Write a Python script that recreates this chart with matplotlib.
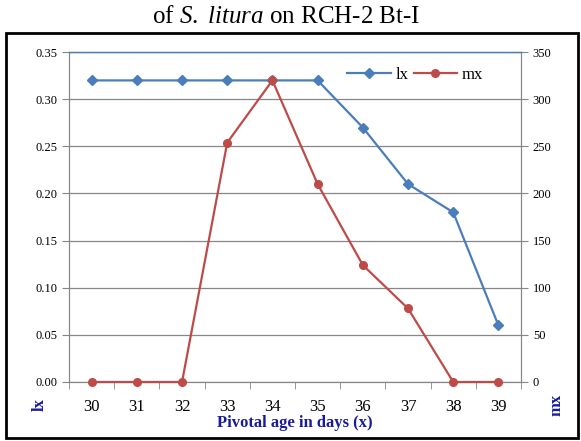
import numpy as np
import matplotlib
matplotlib.use("Agg")
import matplotlib.pyplot as plt
from matplotlib.patches import Rectangle

# dữ liệu
days = [30, 31, 32, 33, 34, 35, 36, 37, 38, 39]
lx = [0.32, 0.32, 0.32, 0.32, 0.32, 0.32, 0.27, 0.21, 0.18, 0.06]
mx = [0, 0, 0, 254, 320, 210, 124, 78, 0, 0]

blue = "#4a7ebb"
red = "#be4b48"
navy = "#1a1a9c"
grey = "#868686"

plt.rcParams['font.family'] = ['Liberation Serif', 'DejaVu Serif']
plt.rcParams['mathtext.fontset'] = 'custom'
plt.rcParams['mathtext.rm'] = 'Liberation Serif'
plt.rcParams['mathtext.it'] = 'Liberation Serif:italic'

fig = plt.figure(figsize=(5.81, 4.41), dpi=100)
ax = fig.add_axes([0.1188, 0.1338, 0.778, 0.748])
ax2 = ax.twinx()

l1, = ax.plot(days, lx, color=blue, marker='D', markersize=5, lw=1.6, label='lx',
              clip_on=False, zorder=3)
l2, = ax2.plot(days, mx, color=red, marker='o', markersize=5.5, lw=1.6, label='mx',
               clip_on=False, zorder=3)

ax.set_xlim(29.5, 39.5)
ax.set_ylim(0, 0.35)
ax2.set_ylim(0, 350)
ax.set_yticks(np.arange(0, 0.351, 0.05))
ax.set_yticklabels([f"{v:.2f}" for v in np.arange(0, 0.351, 0.05)])
ax2.set_yticks(np.arange(0, 351, 50))
ax.yaxis.grid(True, color=grey, lw=0.9)
ax.set_axisbelow(True)

ax.set_xticks(days)
ax.set_xticklabels([str(d) for d in days], fontsize=12)
ax.set_xticks(np.arange(29.5, 39.6, 1), minor=True)
ax.tick_params(axis='x', which='major', length=0, pad=12)
ax.tick_params(axis='x', which='minor', length=5, color=grey)
ax.tick_params(axis='y', labelsize=9, length=5, color=grey)
ax2.tick_params(axis='y', labelsize=9, length=5, color=grey)

for a in (ax, ax2):
    for s in ('left', 'right', 'bottom'):
        a.spines[s].set_color(grey)
    a.spines['top'].set_color(blue)
    a.spines['top'].set_linewidth(0.9)

ax.set_xlabel("Pivotal age in days (x)", fontsize=12, fontweight='bold', color=navy, labelpad=0)

fig.text(0.069, 0.082, "lx", rotation=90, fontsize=12, fontweight='bold', color=navy,
         ha='center', va='center')
fig.text(0.957, 0.082, "mx", rotation=90, fontsize=12, fontweight='bold', color=navy,
         ha='center', va='center')

ax2.legend(handles=[l1, l2], loc='upper right', bbox_to_anchor=(0.95, 1.0), ncol=2,
           frameon=False, fontsize=12, handlelength=2.6, columnspacing=0.3, handletextpad=0.3)

fig.text(0.493, 0.962, "of $\\it{S.\\ litura}$ on RCH-2 Bt-I", fontsize=18, ha='center', va='center')

fig.patches.append(Rectangle((0.011, 0.007), 0.983, 0.918, transform=fig.transFigure,
                             fill=False, edgecolor='black', lw=2))

fig.savefig("out.png", dpi=100)
